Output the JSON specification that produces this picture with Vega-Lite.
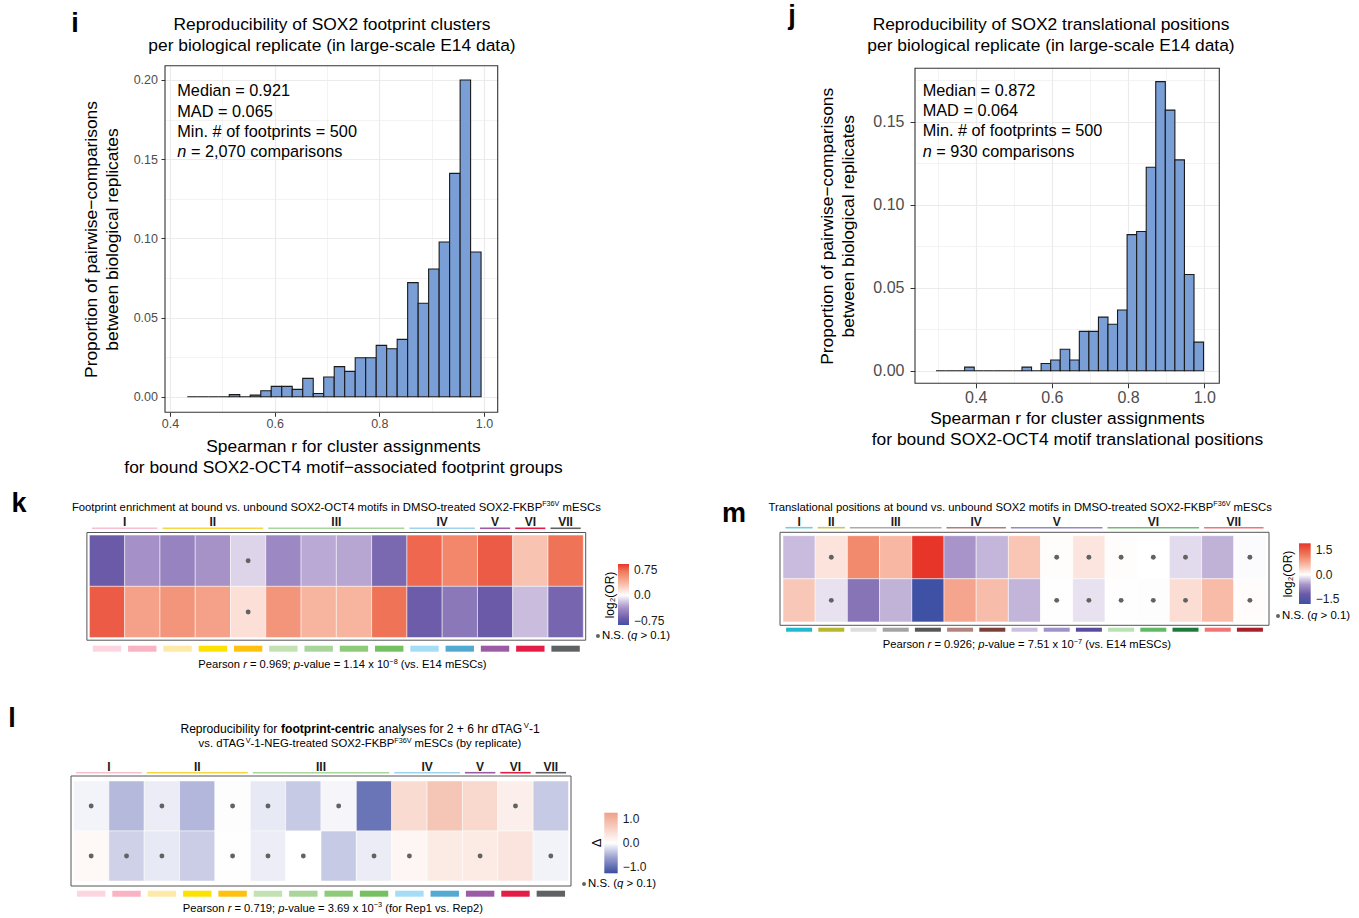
{
"$schema": "https://vega.github.io/schema/vega-lite/v6.json",
"width": 1359, "height": 918, "padding": 0, "autosize": {"type": "none"}, "background": "white",
"config": {"font": "Liberation Sans", "view": {"stroke": null}, "axis": {"labelFont": "Liberation Sans", "titleFont": "Liberation Sans"}, "legend": {"labelFont": "Liberation Sans"}, "text": {"font": "Liberation Sans", "color": "#000000"}},
"datasets": {
"one": [{"k": 1}],
"hist_i": [
{"x0":0.433,"x1":0.4531,"p":0},{"x0":0.4531,"x1":0.4731,"p":0},{"x0":0.4731,"x1":0.4932,"p":0},{"x0":0.4932,"x1":0.5132,"p":0},
{"x0":0.5132,"x1":0.5333,"p":0.0013},{"x0":0.5333,"x1":0.5533,"p":0},{"x0":0.5533,"x1":0.5734,"p":0.001},{"x0":0.5734,"x1":0.5934,"p":0.0038},
{"x0":0.5934,"x1":0.6135,"p":0.0065},{"x0":0.6135,"x1":0.6335,"p":0.0065},{"x0":0.6335,"x1":0.6536,"p":0.0046},{"x0":0.6536,"x1":0.6737,"p":0.0116},
{"x0":0.6737,"x1":0.6937,"p":0.002},{"x0":0.6937,"x1":0.7138,"p":0.0124},{"x0":0.7138,"x1":0.7338,"p":0.019},{"x0":0.7338,"x1":0.7539,"p":0.016},
{"x0":0.7539,"x1":0.7739,"p":0.0246},{"x0":0.7739,"x1":0.794,"p":0.0246},{"x0":0.794,"x1":0.814,"p":0.0324},{"x0":0.814,"x1":0.8341,"p":0.0303},
{"x0":0.8341,"x1":0.8541,"p":0.0362},{"x0":0.8541,"x1":0.8742,"p":0.072},{"x0":0.8742,"x1":0.8942,"p":0.059},{"x0":0.8942,"x1":0.9143,"p":0.0806},
{"x0":0.9143,"x1":0.9343,"p":0.0977},{"x0":0.9343,"x1":0.9544,"p":0.141},{"x0":0.9544,"x1":0.9744,"p":0.2},{"x0":0.9744,"x1":0.9944,"p":0.0914}
],
"hist_j": [
{"x0":0.2958,"x1":0.3209,"p":0},{"x0":0.3209,"x1":0.346,"p":0},{"x0":0.346,"x1":0.371,"p":0},{"x0":0.371,"x1":0.3961,"p":0.00215},
{"x0":0.3961,"x1":0.4212,"p":0},{"x0":0.4212,"x1":0.4463,"p":0},{"x0":0.4463,"x1":0.4714,"p":0},{"x0":0.4714,"x1":0.4964,"p":0},
{"x0":0.4964,"x1":0.5215,"p":0},{"x0":0.5215,"x1":0.5466,"p":0.00215},{"x0":0.5466,"x1":0.5717,"p":0},{"x0":0.5717,"x1":0.5968,"p":0.0043},
{"x0":0.5968,"x1":0.6218,"p":0.00645},{"x0":0.6218,"x1":0.6469,"p":0.0129},{"x0":0.6469,"x1":0.672,"p":0.00645},{"x0":0.672,"x1":0.6971,"p":0.0237},
{"x0":0.6971,"x1":0.7222,"p":0.0237},{"x0":0.7222,"x1":0.7472,"p":0.0323},{"x0":0.7472,"x1":0.7723,"p":0.028},{"x0":0.7723,"x1":0.7974,"p":0.0366},
{"x0":0.7974,"x1":0.8225,"p":0.082},{"x0":0.8225,"x1":0.8476,"p":0.0839},{"x0":0.8476,"x1":0.8726,"p":0.1226},{"x0":0.8726,"x1":0.8977,"p":0.1742},
{"x0":0.8977,"x1":0.9228,"p":0.157},{"x0":0.9228,"x1":0.9479,"p":0.127},{"x0":0.9479,"x1":0.973,"p":0.058},{"x0":0.973,"x1":0.998,"p":0.0172}
],
"k": [
{"col":1,"row":"Bound","v":-0.7,"ns":false},{"col":2,"row":"Bound","v":-0.37,"ns":false},{"col":3,"row":"Bound","v":-0.45,"ns":false},{"col":4,"row":"Bound","v":-0.36,"ns":false},
{"col":5,"row":"Bound","v":-0.14,"ns":true},{"col":6,"row":"Bound","v":-0.42,"ns":false},{"col":7,"row":"Bound","v":-0.28,"ns":false},{"col":8,"row":"Bound","v":-0.29,"ns":false},
{"col":9,"row":"Bound","v":-0.61,"ns":false},{"col":10,"row":"Bound","v":0.76,"ns":false},{"col":11,"row":"Bound","v":0.63,"ns":false},{"col":12,"row":"Bound","v":0.8,"ns":false},
{"col":13,"row":"Bound","v":0.3,"ns":false},{"col":14,"row":"Bound","v":0.72,"ns":false},
{"col":1,"row":"Unbound","v":0.8,"ns":false},{"col":2,"row":"Unbound","v":0.49,"ns":false},{"col":3,"row":"Unbound","v":0.55,"ns":false},{"col":4,"row":"Unbound","v":0.49,"ns":false},
{"col":5,"row":"Unbound","v":0.155,"ns":true},{"col":6,"row":"Unbound","v":0.55,"ns":false},{"col":7,"row":"Unbound","v":0.38,"ns":false},{"col":8,"row":"Unbound","v":0.38,"ns":false},
{"col":9,"row":"Unbound","v":0.72,"ns":false},{"col":10,"row":"Unbound","v":-0.69,"ns":false},{"col":11,"row":"Unbound","v":-0.52,"ns":false},{"col":12,"row":"Unbound","v":-0.7,"ns":false},
{"col":13,"row":"Unbound","v":-0.22,"ns":false},{"col":14,"row":"Unbound","v":-0.63,"ns":false}
],
"m": [
{"col":1,"row":"Bound","v":-0.38,"ns":false},{"col":2,"row":"Bound","v":0.24,"ns":true},{"col":3,"row":"Bound","v":1.05,"ns":false},{"col":4,"row":"Bound","v":0.62,"ns":false},
{"col":5,"row":"Bound","v":1.91,"ns":false},{"col":6,"row":"Bound","v":-0.6,"ns":false},{"col":7,"row":"Bound","v":-0.41,"ns":false},{"col":8,"row":"Bound","v":0.5,"ns":false},
{"col":9,"row":"Bound","v":0.02,"ns":true},{"col":10,"row":"Bound","v":0.22,"ns":true},{"col":11,"row":"Bound","v":0.02,"ns":true},{"col":12,"row":"Bound","v":0.0,"ns":true},
{"col":13,"row":"Bound","v":-0.2,"ns":true},{"col":14,"row":"Bound","v":-0.44,"ns":false},{"col":15,"row":"Bound","v":-0.03,"ns":true},
{"col":1,"row":"Unbound","v":0.48,"ns":false},{"col":2,"row":"Unbound","v":-0.17,"ns":true},{"col":3,"row":"Unbound","v":-0.93,"ns":false},{"col":4,"row":"Unbound","v":-0.43,"ns":false},
{"col":5,"row":"Unbound","v":-1.79,"ns":false},{"col":6,"row":"Unbound","v":0.8,"ns":false},{"col":7,"row":"Unbound","v":0.57,"ns":false},{"col":8,"row":"Unbound","v":-0.42,"ns":false},
{"col":9,"row":"Unbound","v":0.01,"ns":true},{"col":10,"row":"Unbound","v":-0.17,"ns":true},{"col":11,"row":"Unbound","v":0.01,"ns":true},{"col":12,"row":"Unbound","v":-0.01,"ns":true},
{"col":13,"row":"Unbound","v":0.29,"ns":true},{"col":14,"row":"Unbound","v":0.58,"ns":false},{"col":15,"row":"Unbound","v":0.03,"ns":true}
],
"l": [
{"col":1,"row":"Rep1","v":-0.07,"ns":true},{"col":2,"row":"Rep1","v":-0.44,"ns":false},{"col":3,"row":"Rep1","v":-0.12,"ns":true},{"col":4,"row":"Rep1","v":-0.45,"ns":false},
{"col":5,"row":"Rep1","v":-0.01,"ns":true},{"col":6,"row":"Rep1","v":-0.14,"ns":true},{"col":7,"row":"Rep1","v":-0.33,"ns":false},{"col":8,"row":"Rep1","v":-0.06,"ns":true},
{"col":9,"row":"Rep1","v":-0.93,"ns":false},{"col":10,"row":"Rep1","v":0.48,"ns":false},{"col":11,"row":"Rep1","v":0.78,"ns":false},{"col":12,"row":"Rep1","v":0.51,"ns":false},
{"col":13,"row":"Rep1","v":0.21,"ns":true},{"col":14,"row":"Rep1","v":-0.33,"ns":false},
{"col":1,"row":"Rep2","v":0.09,"ns":true},{"col":2,"row":"Rep2","v":-0.29,"ns":true},{"col":3,"row":"Rep2","v":-0.14,"ns":true},{"col":4,"row":"Rep2","v":-0.31,"ns":false},
{"col":5,"row":"Rep2","v":0.01,"ns":true},{"col":6,"row":"Rep2","v":-0.11,"ns":true},{"col":7,"row":"Rep2","v":0.0,"ns":true},{"col":8,"row":"Rep2","v":-0.33,"ns":false},
{"col":9,"row":"Rep2","v":-0.12,"ns":true},{"col":10,"row":"Rep2","v":0.12,"ns":true},{"col":11,"row":"Rep2","v":0.27,"ns":false},{"col":12,"row":"Rep2","v":0.27,"ns":true},
{"col":13,"row":"Rep2","v":0.36,"ns":false},{"col":14,"row":"Rep2","v":-0.08,"ns":true}
],
"cols14": [
{"col":1,"group":"I"},{"col":2,"group":"I"},{"col":3,"group":"II"},{"col":4,"group":"II"},{"col":5,"group":"II"},
{"col":6,"group":"III"},{"col":7,"group":"III"},{"col":8,"group":"III"},{"col":9,"group":"III"},
{"col":10,"group":"IV"},{"col":11,"group":"IV"},{"col":12,"group":"V"},{"col":13,"group":"VI"},{"col":14,"group":"VII"}
],
"cols15": [
{"col":1,"group":"I"},{"col":2,"group":"II"},{"col":3,"group":"III"},{"col":4,"group":"III"},{"col":5,"group":"III"},
{"col":6,"group":"IV"},{"col":7,"group":"IV"},{"col":8,"group":"V"},{"col":9,"group":"V"},{"col":10,"group":"V"},
{"col":11,"group":"VI"},{"col":12,"group":"VI"},{"col":13,"group":"VI"},{"col":14,"group":"VII"},{"col":15,"group":"VII"}
]
},
"resolve": {"scale": {"x": "independent", "y": "independent", "color": "independent", "fill": "independent", "stroke": "independent"}, "axis": {"x": "independent", "y": "independent"}, "legend": {"color": "independent"}},
"layer": [
{
"data": {"name": "hist_i"},
"resolve": {"axis": {"x": "independent", "y": "independent"}},
"layer": [
{"mark": {"type": "rect", "fill": "#7a9fd6", "stroke": "#1a1a1a", "strokeWidth": 1.1},
 "encoding": {
  "x": {"field": "x0", "type": "quantitative", "scale": {"domain": [0.3904, 1.0262], "range": [165, 497.7], "nice": false, "zero": false},
   "axis": {"orient": "bottom", "offset": -505.7, "values": [0.4, 0.6, 0.8, 1.0], "format": ".1f", "grid": false, "domain": false, "tickSize": 4, "tickColor": "#333333", "tickWidth": 1, "labelFontSize": 12.5, "labelColor": "#4d4d4d", "labelPadding": 1.5, "labelFlush": false, "title": ["Spearman r for cluster assignments", "for bound SOX2-OCT4 motif\u2212associated footprint groups"], "titleFontSize": 17.4, "titleFontWeight": "normal", "titleColor": "#000000", "titleX": 343, "titleY": 39.6, "titleAlign": "center", "titleBaseline": "alphabetic", "titleLineHeight": 20.5, "zindex": 0}},
  "x2": {"field": "x1"},
  "y": {"field": "p", "type": "quantitative", "scale": {"domain": [-0.00985, 0.209], "range": [412.3, 65.7], "nice": false, "zero": false},
   "axis": {"orient": "left", "offset": -165, "values": [0, 0.05, 0.1, 0.15, 0.2], "format": ".2f", "grid": false, "domain": false, "tickSize": 4, "tickColor": "#333333", "tickWidth": 1, "labelFontSize": 12.5, "labelColor": "#4d4d4d", "labelPadding": 3.5, "labelFlush": false, "title": ["Proportion of pairwise\u2212comparisons", "between biological replicates"], "titleFontSize": 17.4, "titleFontWeight": "normal", "titleColor": "#000000", "titleAngle": 270, "titleX": -68.8, "titleY": 239, "titleAlign": "center", "titleBaseline": "alphabetic", "titleLineHeight": 21.5, "zindex": 0}},
  "y2": {"datum": 0}
 }},
{"data": {"name": "one"},
 "mark": {"type": "rect", "filled": false, "stroke": "#333333", "strokeWidth": 1.1},
 "encoding": {
  "x": {"datum": 0.3904, "type": "quantitative", "axis": {"orient": "top", "offset": -65.7, "values": [0.4, 0.5, 0.6, 0.7, 0.8, 0.9, 1.0], "labels": false, "domain": false, "grid": false, "tickSize": -346.6, "tickColor": "#ebebeb", "tickWidth": {"condition": {"test": "abs((datum.value*10) % 2 - 1) < 0.01", "value": 0.6}, "value": 1.2}, "title": null, "zindex": 0}},
  "x2": {"datum": 1.0262},
  "y": {"datum": -0.00985, "type": "quantitative", "axis": {"orient": "right", "offset": -861.3, "values": [0, 0.025, 0.05, 0.075, 0.1, 0.125, 0.15, 0.175, 0.2], "labels": false, "domain": false, "grid": false, "tickSize": -332.7, "tickColor": "#ebebeb", "tickWidth": {"condition": {"test": "abs((datum.value*40) % 2 - 1) < 0.01", "value": 0.6}, "value": 1.2}, "title": null, "zindex": 0}},
  "y2": {"datum": 0.209}
 }},
{"data": {"name": "one"}, "mark": {"type": "text", "text": ["Reproducibility of SOX2 footprint clusters", "per biological replicate (in large-scale E14 data)"], "align": "center", "baseline": "alphabetic", "fontSize": 17.4, "lineHeight": 21, "color": "#000000"},
 "encoding": {"x": {"datum": 0.7095, "type": "quantitative", "axis": null}, "y": {"datum": 0.2314, "type": "quantitative", "axis": null}}},
{"data": {"name": "one"}, "mark": {"type": "text", "text": "i", "align": "center", "baseline": "alphabetic", "fontSize": 27, "fontWeight": "bold", "color": "#000000"},
 "encoding": {"x": {"datum": 0.2184, "type": "quantitative", "axis": null}, "y": {"datum": 0.2305, "type": "quantitative", "axis": null}}},
{"data": {"name": "one"}, "mark": {"type": "text", "text": ["Median = 0.921", "MAD = 0.065", "Min. # of footprints = 500"], "align": "left", "baseline": "alphabetic", "fontSize": 16.3, "lineHeight": 20.3, "color": "#000000"},
 "encoding": {"x": {"datum": 0.4139, "type": "quantitative", "axis": null}, "y": {"datum": 0.1896, "type": "quantitative", "axis": null}}},
{"data": {"name": "one"}, "mark": {"type": "text", "text": "n", "align": "left", "baseline": "alphabetic", "fontSize": 16.3, "fontStyle": "italic", "color": "#000000"},
 "encoding": {"x": {"datum": 0.4139, "type": "quantitative", "axis": null}, "y": {"datum": 0.1511, "type": "quantitative", "axis": null}}},
{"data": {"name": "one"}, "mark": {"type": "text", "text": "= 2,070 comparisons", "align": "left", "baseline": "alphabetic", "fontSize": 16.3, "dx": 13.6, "color": "#000000"},
 "encoding": {"x": {"datum": 0.4139, "type": "quantitative", "axis": null}, "y": {"datum": 0.1511, "type": "quantitative", "axis": null}}}
]
},
{
"data": {"name": "hist_j"},
"resolve": {"axis": {"x": "independent", "y": "independent"}},
"layer": [
{"mark": {"type": "rect", "fill": "#7a9fd6", "stroke": "#1a1a1a", "strokeWidth": 1.1},
 "encoding": {
  "x": {"field": "x0", "type": "quantitative", "scale": {"domain": [0.2407, 1.0394], "range": [915, 1219.3], "nice": false, "zero": false},
   "axis": {"orient": "bottom", "offset": -534.7, "values": [0.4, 0.6, 0.8, 1.0], "format": ".1f", "grid": false, "domain": false, "tickSize": 4.5, "tickColor": "#333333", "tickWidth": 1, "labelFontSize": 16, "labelColor": "#4d4d4d", "labelPadding": 2, "labelFlush": false, "title": ["Spearman r for cluster assignments", "for bound SOX2-OCT4 motif translational positions"], "titleFontSize": 17.4, "titleFontWeight": "normal", "titleColor": "#000000", "titleX": 1067, "titleY": 40.2, "titleAlign": "center", "titleBaseline": "alphabetic", "titleLineHeight": 20.5, "zindex": 0}},
  "x2": {"field": "x1"},
  "y": {"field": "p", "type": "quantitative", "scale": {"domain": [-0.0076, 0.1822], "range": [383.3, 68.3], "nice": false, "zero": false},
   "axis": {"orient": "left", "offset": -915, "values": [0, 0.05, 0.1, 0.15], "format": ".2f", "grid": false, "domain": false, "tickSize": 5, "tickColor": "#333333", "tickWidth": 1, "labelFontSize": 16, "labelColor": "#4d4d4d", "labelPadding": 6, "labelFlush": false, "title": ["Proportion of pairwise\u2212comparisons", "between biological replicates"], "titleFontSize": 17.4, "titleFontWeight": "normal", "titleColor": "#000000", "titleAngle": 270, "titleX": -83, "titleY": 225.8, "titleAlign": "center", "titleBaseline": "alphabetic", "titleLineHeight": 21.5, "zindex": 0}},
  "y2": {"datum": 0}
 }},
{"data": {"name": "one"},
 "mark": {"type": "rect", "filled": false, "stroke": "#333333", "strokeWidth": 1.1},
 "encoding": {
  "x": {"datum": 0.2407, "type": "quantitative", "axis": {"orient": "top", "offset": -68.3, "values": [0.3, 0.4, 0.5, 0.6, 0.7, 0.8, 0.9, 1.0], "labels": false, "domain": false, "grid": false, "tickSize": -315, "tickColor": "#ebebeb", "tickWidth": {"condition": {"test": "abs((datum.value*10) % 2 - 1) < 0.01", "value": 0.6}, "value": 1.2}, "title": null, "zindex": 0}},
  "x2": {"datum": 1.0394},
  "y": {"datum": -0.0076, "type": "quantitative", "axis": {"orient": "right", "offset": -139.7, "values": [0, 0.025, 0.05, 0.075, 0.1, 0.125, 0.15, 0.175], "labels": false, "domain": false, "grid": false, "tickSize": -304.3, "tickColor": "#ebebeb", "tickWidth": {"condition": {"test": "abs((datum.value*40) % 2 - 1) < 0.01", "value": 0.6}, "value": 1.2}, "title": null, "zindex": 0}},
  "y2": {"datum": 0.1822}
 }},
{"data": {"name": "one"}, "mark": {"type": "text", "text": ["Reproducibility of SOX2 translational positions", "per biological replicate (in large-scale E14 data)"], "align": "center", "baseline": "alphabetic", "fontSize": 17.4, "lineHeight": 21, "color": "#000000"},
 "encoding": {"x": {"datum": 0.5976, "type": "quantitative", "axis": null}, "y": {"datum": 0.2052, "type": "quantitative", "axis": null}}},
{"data": {"name": "one"}, "mark": {"type": "text", "text": "j", "align": "center", "baseline": "alphabetic", "fontSize": 27, "fontWeight": "bold", "color": "#000000"},
 "encoding": {"x": {"datum": -0.0822, "type": "quantitative", "axis": null}, "y": {"datum": 0.2086, "type": "quantitative", "axis": null}}},
{"data": {"name": "one"}, "mark": {"type": "text", "text": ["Median = 0.872", "MAD = 0.064", "Min. # of footprints = 500"], "align": "left", "baseline": "alphabetic", "fontSize": 16.3, "lineHeight": 20.3, "color": "#000000"},
 "encoding": {"x": {"datum": 0.2609, "type": "quantitative", "axis": null}, "y": {"datum": 0.1657, "type": "quantitative", "axis": null}}},
{"data": {"name": "one"}, "mark": {"type": "text", "text": "n", "align": "left", "baseline": "alphabetic", "fontSize": 16.3, "fontStyle": "italic", "color": "#000000"},
 "encoding": {"x": {"datum": 0.2609, "type": "quantitative", "axis": null}, "y": {"datum": 0.1289, "type": "quantitative", "axis": null}}},
{"data": {"name": "one"}, "mark": {"type": "text", "text": "= 930 comparisons", "align": "left", "baseline": "alphabetic", "fontSize": 16.3, "dx": 13.6, "color": "#000000"},
 "encoding": {"x": {"datum": 0.2609, "type": "quantitative", "axis": null}, "y": {"datum": 0.1289, "type": "quantitative", "axis": null}}}
]
},
{
"data": {"name": "k"},
"layer": [
{"mark": {"type": "rect", "stroke": "#ffffff", "strokeWidth": 0.5},
 "encoding": {
  "x": {"field": "col", "type": "ordinal", "scale": {"domain": [1,2,3,4,5,6,7,8,9,10,11,12,13,14], "range": [89.4, 583.3], "paddingInner": 0, "paddingOuter": 0},
   "axis": {"orient": "bottom", "offset": -277.8, "labels": false, "domain": false, "grid": false, "tickSize": 3, "tickColor": "#666666", "title": null, "zindex": 0}},
  "y": {"field": "row", "type": "nominal", "scale": {"domain": ["Bound", "Unbound"], "range": [535.1, 637.6], "paddingInner": 0, "paddingOuter": 0},
   "axis": {"orient": "left", "offset": -86.9, "labelAngle": 270, "labelAlign": "center", "labelBaseline": "bottom", "labelPadding": 4, "labelFontSize": 11.5, "labelColor": "#333333", "domain": false, "grid": false, "tickSize": 3, "tickColor": "#666666", "title": null, "zindex": 0}},
  "color": {"field": "v", "type": "quantitative", "scale": {"domain": [-0.875, -0.7, -0.35, 0, 0.35, 0.7, 0.92], "range": ["#3f51a5", "#6a5aa8", "#a994c9", "#ffffff", "#f8b9a5", "#f07a5c", "#e8352a"], "interpolate": "rgb"},
   "legend": {"orient": "none", "legendX": 618, "legendY": 564, "direction": "vertical", "title": null, "gradientLength": 61, "gradientThickness": 11, "values": [-0.75, 0, 0.75], "labelExpr": "datum.value == 0 ? '0.0' : format(datum.value, '.2f')", "labelFontSize": 12, "labelColor": "#1a1a1a", "labelOffset": 5, "padding": 0, "gradientStrokeWidth": 0}}
 }},
{"transform": [{"filter": "datum.ns"}],
 "mark": {"type": "point", "filled": true, "color": "#626262", "size": 24, "opacity": 1},
 "encoding": {"x": {"field": "col", "type": "ordinal", "axis": null}, "y": {"field": "row", "type": "nominal", "axis": null}}}
]
},
{
"data": {"name": "cols14"},
"layer": [
{"mark": {"type": "rect", "xOffset": -14.2, "x2Offset": 14.2},
 "encoding": {
  "x": {"field": "col", "type": "quantitative", "scale": {"domain": [0.43, 14.57], "range": [86.9, 585.7], "nice": false, "zero": false}, "axis": null},
  "x2": {"field": "col"},
  "y": {"datum": 0.226, "type": "quantitative", "scale": {"domain": [0.45, 2.55], "range": [640.2, 532.5], "nice": false, "zero": false}, "axis": null},
  "y2": {"datum": 0.343},
  "fill": {"field": "col", "type": "ordinal", "scale": {"domain": [1,2,3,4,5,6,7,8,9,10,11,12,13,14], "range": ["#fdd5e1", "#f9b3c2", "#fdeaa8", "#fde200", "#fec10e", "#c3e2b3", "#a9d59a", "#8ecb78", "#75c162", "#a4ddf5", "#52a9d2", "#9b5ba5", "#e31d45", "#5f6262"]}, "legend": null}
 }},
{"mark": {"type": "rule", "strokeWidth": 1.6, "xOffset": -15.1, "x2Offset": 15.1},
 "encoding": {
  "x": {"aggregate": "min", "field": "col", "type": "quantitative", "axis": null},
  "x2": {"aggregate": "max", "field": "col"},
  "y": {"datum": 2.632, "type": "quantitative", "axis": null},
  "stroke": {"field": "group", "type": "nominal", "scale": {"domain": ["I", "II", "III", "IV", "V", "VI", "VII"], "range": ["#f7bfd0", "#f8d642", "#a9d69d", "#9dd3ef", "#9b5ba5", "#e31d45", "#5f6262"]}, "legend": null}
 }},
{"mark": {"type": "text", "fontWeight": "bold", "fontSize": 12, "baseline": "middle", "align": "center", "color": "#1a1a1a"},
 "encoding": {
  "x": {"aggregate": "mean", "field": "col", "type": "quantitative", "axis": null},
  "y": {"datum": 2.749, "type": "quantitative", "axis": null},
  "text": {"field": "group", "type": "nominal"}
 }},
{"data": {"name": "one"}, "mark": {"type": "rect", "filled": false, "stroke": "#555555", "strokeWidth": 1},
 "encoding": {"x": {"datum": 0.43, "type": "quantitative", "axis": null}, "x2": {"datum": 14.57}, "y": {"datum": 0.45, "type": "quantitative", "axis": null}, "y2": {"datum": 2.55}}},
{"data": {"name": "one"}, "mark": {"type": "text", "text": "Footprint enrichment at bound vs. unbound SOX2-OCT4 motifs in DMSO-treated SOX2-FKBP", "align": "right", "baseline": "alphabetic", "fontSize": 11.3, "dx": 205.9},
 "encoding": {"x": {"datum": 7.5, "type": "quantitative", "axis": null}, "y": {"datum": 2.974, "type": "quantitative", "axis": null}}},
{"data": {"name": "one"}, "mark": {"type": "text", "text": "F36V", "align": "left", "baseline": "alphabetic", "fontSize": 7.2, "dx": 205.9, "dy": -4.5},
 "encoding": {"x": {"datum": 7.5, "type": "quantitative", "axis": null}, "y": {"datum": 2.974, "type": "quantitative", "axis": null}}},
{"data": {"name": "one"}, "mark": {"type": "text", "text": "mESCs", "align": "left", "baseline": "alphabetic", "fontSize": 11.3, "dx": 226.2},
 "encoding": {"x": {"datum": 7.5, "type": "quantitative", "axis": null}, "y": {"datum": 2.974, "type": "quantitative", "axis": null}}},
{"data": {"name": "one"}, "mark": {"type": "text", "text": "Pearson", "align": "left", "baseline": "alphabetic", "fontSize": 11.2, "dx": 0},
 "encoding": {"x": {"datum": 3.59, "type": "quantitative", "axis": null}, "y": {"datum": -0.098, "type": "quantitative", "axis": null}}},
{"data": {"name": "one"}, "mark": {"type": "text", "text": "r", "align": "left", "baseline": "alphabetic", "fontSize": 11.2, "fontStyle": "italic", "dx": 44.8},
 "encoding": {"x": {"datum": 3.59, "type": "quantitative", "axis": null}, "y": {"datum": -0.098, "type": "quantitative", "axis": null}}},
{"data": {"name": "one"}, "mark": {"type": "text", "text": "= 0.969;", "align": "left", "baseline": "alphabetic", "fontSize": 11.2, "dx": 51.6},
 "encoding": {"x": {"datum": 3.59, "type": "quantitative", "axis": null}, "y": {"datum": -0.098, "type": "quantitative", "axis": null}}},
{"data": {"name": "one"}, "mark": {"type": "text", "text": "p", "align": "left", "baseline": "alphabetic", "fontSize": 11.2, "fontStyle": "italic", "dx": 95.5},
 "encoding": {"x": {"datum": 3.59, "type": "quantitative", "axis": null}, "y": {"datum": -0.098, "type": "quantitative", "axis": null}}},
{"data": {"name": "one"}, "mark": {"type": "text", "text": "-value = 1.14 x 10", "align": "left", "baseline": "alphabetic", "fontSize": 11.2, "dx": 101.7},
 "encoding": {"x": {"datum": 3.59, "type": "quantitative", "axis": null}, "y": {"datum": -0.098, "type": "quantitative", "axis": null}}},
{"data": {"name": "one"}, "mark": {"type": "text", "text": "\u22128", "align": "left", "baseline": "alphabetic", "fontSize": 7.3, "dx": 191.0, "dy": -4.5},
 "encoding": {"x": {"datum": 3.59, "type": "quantitative", "axis": null}, "y": {"datum": -0.098, "type": "quantitative", "axis": null}}},
{"data": {"name": "one"}, "mark": {"type": "text", "text": "(vs. E14 mESCs)", "align": "left", "baseline": "alphabetic", "fontSize": 11.2, "dx": 202.4},
 "encoding": {"x": {"datum": 3.59, "type": "quantitative", "axis": null}, "y": {"datum": -0.098, "type": "quantitative", "axis": null}}},
{"data": {"name": "one"}, "mark": {"type": "text", "text": "k", "align": "center", "baseline": "alphabetic", "fontSize": 27, "fontWeight": "bold"},
 "encoding": {"x": {"datum": -1.495, "type": "quantitative", "axis": null}, "y": {"datum": 2.95, "type": "quantitative", "axis": null}}},
{"data": {"name": "one"}, "mark": {"type": "text", "text": "log\u2082(OR)", "align": "center", "baseline": "middle", "fontSize": 12, "angle": 270},
 "encoding": {"x": {"datum": 15.257, "type": "quantitative", "axis": null}, "y": {"datum": 1.331, "type": "quantitative", "axis": null}}},
{"data": {"name": "one"}, "mark": {"type": "point", "filled": true, "color": "#626262", "size": 16, "opacity": 1},
 "encoding": {"x": {"datum": 14.917, "type": "quantitative", "axis": null}, "y": {"datum": 0.532, "type": "quantitative", "axis": null}}},
{"data": {"name": "one"}, "mark": {"type": "text", "text": "N.S. (", "align": "left", "baseline": "middle", "fontSize": 11.4, "dx": 4},
 "encoding": {"x": {"datum": 14.917, "type": "quantitative", "axis": null}, "y": {"datum": 0.532, "type": "quantitative", "axis": null}}},
{"data": {"name": "one"}, "mark": {"type": "text", "text": "q", "align": "left", "baseline": "middle", "fontSize": 11.4, "fontStyle": "italic", "dx": 33.1},
 "encoding": {"x": {"datum": 14.917, "type": "quantitative", "axis": null}, "y": {"datum": 0.532, "type": "quantitative", "axis": null}}},
{"data": {"name": "one"}, "mark": {"type": "text", "text": "> 0.1)", "align": "left", "baseline": "middle", "fontSize": 11.4, "dx": 42.6},
 "encoding": {"x": {"datum": 14.917, "type": "quantitative", "axis": null}, "y": {"datum": 0.532, "type": "quantitative", "axis": null}}}
]
},
{
"data": {"name": "m"},
"layer": [
{"mark": {"type": "rect", "stroke": "#ffffff", "strokeWidth": 0.5},
 "encoding": {
  "x": {"field": "col", "type": "ordinal", "scale": {"domain": [1,2,3,4,5,6,7,8,9,10,11,12,13,14,15], "range": [783, 1266], "paddingInner": 0, "paddingOuter": 0},
   "axis": {"orient": "bottom", "offset": -292.7, "labels": false, "domain": false, "grid": false, "tickSize": 3, "tickColor": "#666666", "title": null, "zindex": 0}},
  "y": {"field": "row", "type": "nominal", "scale": {"domain": ["Bound", "Unbound"], "range": [535.7, 621.9], "paddingInner": 0, "paddingOuter": 0},
   "axis": {"orient": "left", "offset": -780, "labelAngle": 270, "labelAlign": "center", "labelBaseline": "bottom", "labelPadding": 4, "labelFontSize": 11.5, "labelColor": "#333333", "domain": false, "grid": false, "tickSize": 3, "tickColor": "#666666", "title": null, "zindex": 0}},
  "color": {"field": "v", "type": "quantitative", "scale": {"domain": [-1.79, -1.2, -0.6, 0, 0.6, 1.2, 1.91], "range": ["#3f51a5", "#6a5aa8", "#a994c9", "#ffffff", "#f8b9a5", "#f07a5c", "#e8352a"], "interpolate": "rgb"},
   "legend": {"orient": "none", "legendX": 1299, "legendY": 543.3, "direction": "vertical", "title": null, "gradientLength": 60.7, "gradientThickness": 11.7, "values": [-1.5, 0, 1.5], "format": ".1f", "labelFontSize": 12, "labelColor": "#1a1a1a", "labelOffset": 5, "padding": 0, "gradientStrokeWidth": 0}}
 }},
{"transform": [{"filter": "datum.ns"}],
 "mark": {"type": "point", "filled": true, "color": "#626262", "size": 24, "opacity": 1},
 "encoding": {"x": {"field": "col", "type": "ordinal", "axis": null}, "y": {"field": "row", "type": "nominal", "axis": null}}}
]
},
{
"data": {"name": "cols15"},
"layer": [
{"mark": {"type": "rect", "xOffset": -13, "x2Offset": 13},
 "encoding": {
  "x": {"field": "col", "type": "quantitative", "scale": {"domain": [0.407, 15.593], "range": [780, 1269], "nice": false, "zero": false}, "axis": null},
  "x2": {"field": "col"},
  "y": {"datum": 0.271, "type": "quantitative", "scale": {"domain": [0.42, 2.58], "range": [625.3, 532.3], "nice": false, "zero": false}, "axis": null},
  "y2": {"datum": 0.364},
  "fill": {"field": "col", "type": "ordinal", "scale": {"domain": [1,2,3,4,5,6,7,8,9,10,11,12,13,14,15], "range": ["#22b8ce", "#b8b72f", "#dddddd", "#a3a3a3", "#565656", "#b3837d", "#7b3f3a", "#cdbfe0", "#9f92c9", "#5a4ba1", "#b9e1b1", "#5fb965", "#1e7a3a", "#f07474", "#a81e2b"]}, "legend": null}
 }},
{"mark": {"type": "rule", "strokeWidth": 1.6, "xOffset": -13.6, "x2Offset": 13.6},
 "encoding": {
  "x": {"aggregate": "min", "field": "col", "type": "quantitative", "axis": null},
  "x2": {"aggregate": "max", "field": "col"},
  "y": {"datum": 2.687, "type": "quantitative", "axis": null},
  "stroke": {"field": "group", "type": "nominal", "scale": {"domain": ["I", "II", "III", "IV", "V", "VI", "VII"], "range": ["#6fcfdd", "#c8c85c", "#ababab", "#b17c77", "#9588c4", "#6ebd73", "#f07575"]}, "legend": null}
 }},
{"mark": {"type": "text", "fontWeight": "bold", "fontSize": 12, "baseline": "middle", "align": "center", "color": "#1a1a1a"},
 "encoding": {
  "x": {"aggregate": "mean", "field": "col", "type": "quantitative", "axis": null},
  "y": {"datum": 2.826, "type": "quantitative", "axis": null},
  "text": {"field": "group", "type": "nominal"}
 }},
{"data": {"name": "one"}, "mark": {"type": "rect", "filled": false, "stroke": "#555555", "strokeWidth": 1},
 "encoding": {"x": {"datum": 0.407, "type": "quantitative", "axis": null}, "x2": {"datum": 15.593}, "y": {"datum": 0.42, "type": "quantitative", "axis": null}, "y2": {"datum": 2.58}}},
{"data": {"name": "one"}, "mark": {"type": "text", "text": "Translational positions at bound vs. unbound SOX2 motifs in DMSO-treated SOX2-FKBP", "align": "right", "baseline": "alphabetic", "fontSize": 11.3, "dx": 193.3},
 "encoding": {"x": {"datum": 7.86, "type": "quantitative", "axis": null}, "y": {"datum": 3.08, "type": "quantitative", "axis": null}}},
{"data": {"name": "one"}, "mark": {"type": "text", "text": "F36V", "align": "left", "baseline": "alphabetic", "fontSize": 7.2, "dx": 193.3, "dy": -4.5},
 "encoding": {"x": {"datum": 7.86, "type": "quantitative", "axis": null}, "y": {"datum": 3.08, "type": "quantitative", "axis": null}}},
{"data": {"name": "one"}, "mark": {"type": "text", "text": "mESCs", "align": "left", "baseline": "alphabetic", "fontSize": 11.3, "dx": 213.6},
 "encoding": {"x": {"datum": 7.86, "type": "quantitative", "axis": null}, "y": {"datum": 3.08, "type": "quantitative", "axis": null}}},
{"data": {"name": "one"}, "mark": {"type": "text", "text": "Pearson", "align": "left", "baseline": "alphabetic", "fontSize": 11.2, "dx": 0},
 "encoding": {"x": {"datum": 3.599, "type": "quantitative", "axis": null}, "y": {"datum": -0.114, "type": "quantitative", "axis": null}}},
{"data": {"name": "one"}, "mark": {"type": "text", "text": "r", "align": "left", "baseline": "alphabetic", "fontSize": 11.2, "fontStyle": "italic", "dx": 44.8},
 "encoding": {"x": {"datum": 3.599, "type": "quantitative", "axis": null}, "y": {"datum": -0.114, "type": "quantitative", "axis": null}}},
{"data": {"name": "one"}, "mark": {"type": "text", "text": "= 0.926;", "align": "left", "baseline": "alphabetic", "fontSize": 11.2, "dx": 51.6},
 "encoding": {"x": {"datum": 3.599, "type": "quantitative", "axis": null}, "y": {"datum": -0.114, "type": "quantitative", "axis": null}}},
{"data": {"name": "one"}, "mark": {"type": "text", "text": "p", "align": "left", "baseline": "alphabetic", "fontSize": 11.2, "fontStyle": "italic", "dx": 95.5},
 "encoding": {"x": {"datum": 3.599, "type": "quantitative", "axis": null}, "y": {"datum": -0.114, "type": "quantitative", "axis": null}}},
{"data": {"name": "one"}, "mark": {"type": "text", "text": "-value = 7.51 x 10", "align": "left", "baseline": "alphabetic", "fontSize": 11.2, "dx": 101.7},
 "encoding": {"x": {"datum": 3.599, "type": "quantitative", "axis": null}, "y": {"datum": -0.114, "type": "quantitative", "axis": null}}},
{"data": {"name": "one"}, "mark": {"type": "text", "text": "\u22127", "align": "left", "baseline": "alphabetic", "fontSize": 7.3, "dx": 191.0, "dy": -4.5},
 "encoding": {"x": {"datum": 3.599, "type": "quantitative", "axis": null}, "y": {"datum": -0.114, "type": "quantitative", "axis": null}}},
{"data": {"name": "one"}, "mark": {"type": "text", "text": "(vs. E14 mESCs)", "align": "left", "baseline": "alphabetic", "fontSize": 11.2, "dx": 202.4},
 "encoding": {"x": {"datum": 3.599, "type": "quantitative", "axis": null}, "y": {"datum": -0.114, "type": "quantitative", "axis": null}}},
{"data": {"name": "one"}, "mark": {"type": "text", "text": "m", "align": "center", "baseline": "alphabetic", "fontSize": 27, "fontWeight": "bold"},
 "encoding": {"x": {"datum": -1.022, "type": "quantitative", "axis": null}, "y": {"datum": 2.819, "type": "quantitative", "axis": null}}},
{"data": {"name": "one"}, "mark": {"type": "text", "text": "log\u2082(OR)", "align": "center", "baseline": "middle", "fontSize": 12, "angle": 270},
 "encoding": {"x": {"datum": 16.183, "type": "quantitative", "axis": null}, "y": {"datum": 1.611, "type": "quantitative", "axis": null}}},
{"data": {"name": "one"}, "mark": {"type": "point", "filled": true, "color": "#626262", "size": 16, "opacity": 1},
 "encoding": {"x": {"datum": 15.873, "type": "quantitative", "axis": null}, "y": {"datum": 0.636, "type": "quantitative", "axis": null}}},
{"data": {"name": "one"}, "mark": {"type": "text", "text": "N.S. (", "align": "left", "baseline": "middle", "fontSize": 11.4, "dx": 4},
 "encoding": {"x": {"datum": 15.873, "type": "quantitative", "axis": null}, "y": {"datum": 0.636, "type": "quantitative", "axis": null}}},
{"data": {"name": "one"}, "mark": {"type": "text", "text": "q", "align": "left", "baseline": "middle", "fontSize": 11.4, "fontStyle": "italic", "dx": 33.1},
 "encoding": {"x": {"datum": 15.873, "type": "quantitative", "axis": null}, "y": {"datum": 0.636, "type": "quantitative", "axis": null}}},
{"data": {"name": "one"}, "mark": {"type": "text", "text": "> 0.1)", "align": "left", "baseline": "middle", "fontSize": 11.4, "dx": 42.6},
 "encoding": {"x": {"datum": 15.873, "type": "quantitative", "axis": null}, "y": {"datum": 0.636, "type": "quantitative", "axis": null}}}
]
},
{
"data": {"name": "l"},
"layer": [
{"mark": {"type": "rect", "stroke": "#ffffff", "strokeWidth": 0.5},
 "encoding": {
  "x": {"field": "col", "type": "ordinal", "scale": {"domain": [1,2,3,4,5,6,7,8,9,10,11,12,13,14], "range": [73.5, 568.5], "paddingInner": 0, "paddingOuter": 0},
   "axis": {"orient": "bottom", "offset": -32, "labels": false, "domain": false, "grid": false, "tickSize": 3, "tickColor": "#666666", "title": null, "zindex": 0}},
  "y": {"field": "row", "type": "nominal", "scale": {"domain": ["Rep1", "Rep2"], "range": [781, 881], "paddingInner": 0, "paddingOuter": 0},
   "axis": {"orient": "left", "offset": -71, "labelAngle": 270, "labelAlign": "center", "labelBaseline": "bottom", "labelPadding": 2, "labelFontSize": 11.5, "labelColor": "#333333", "domain": false, "grid": false, "tickSize": 3, "tickColor": "#666666", "title": null, "zindex": 0}},
  "color": {"field": "v", "type": "quantitative", "scale": {"domain": [-1.25, -0.6, 0, 1.26], "range": ["#3b4da0", "#9a9fcf", "#ffffff", "#efa187"], "interpolate": "rgb"},
   "legend": {"orient": "none", "legendX": 604.3, "legendY": 812.7, "direction": "vertical", "title": null, "gradientLength": 60.6, "gradientThickness": 13.4, "values": [-1, 0, 1], "format": ".1f", "labelFontSize": 12, "labelColor": "#1a1a1a", "labelOffset": 5, "padding": 0, "gradientStrokeWidth": 0}}
 }},
{"transform": [{"filter": "datum.ns"}],
 "mark": {"type": "point", "filled": true, "color": "#626262", "size": 24, "opacity": 1},
 "encoding": {"x": {"field": "col", "type": "ordinal", "axis": null}, "y": {"field": "row", "type": "nominal", "axis": null}}}
]
},
{
"data": {"name": "cols14"},
"layer": [
{"mark": {"type": "rect", "xOffset": -14.2, "x2Offset": 14.2},
 "encoding": {
  "x": {"field": "col", "type": "quantitative", "scale": {"domain": [0.43, 14.57], "range": [71, 571], "nice": false, "zero": false}, "axis": null},
  "x2": {"field": "col"},
  "y": {"datum": 0.186, "type": "quantitative", "scale": {"domain": [0.4, 2.6], "range": [886, 776], "nice": false, "zero": false}, "axis": null},
  "y2": {"datum": 0.306},
  "fill": {"field": "col", "type": "ordinal", "scale": {"domain": [1,2,3,4,5,6,7,8,9,10,11,12,13,14], "range": ["#fdd5e1", "#f9b3c2", "#fdeaa8", "#fde200", "#fec10e", "#c3e2b3", "#a9d59a", "#8ecb78", "#75c162", "#a4ddf5", "#52a9d2", "#9b5ba5", "#e31d45", "#5f6262"]}, "legend": null}
 }},
{"mark": {"type": "rule", "strokeWidth": 1.6, "xOffset": -15.2, "x2Offset": 15.2},
 "encoding": {
  "x": {"aggregate": "min", "field": "col", "type": "quantitative", "axis": null},
  "x2": {"aggregate": "max", "field": "col"},
  "y": {"datum": 2.666, "type": "quantitative", "axis": null},
  "stroke": {"field": "group", "type": "nominal", "scale": {"domain": ["I", "II", "III", "IV", "V", "VI", "VII"], "range": ["#f7bfd0", "#f8d642", "#a9d69d", "#9dd3ef", "#9b5ba5", "#e31d45", "#5f6262"]}, "legend": null}
 }},
{"mark": {"type": "text", "fontWeight": "bold", "fontSize": 12, "baseline": "middle", "align": "center", "color": "#1a1a1a"},
 "encoding": {
  "x": {"aggregate": "mean", "field": "col", "type": "quantitative", "axis": null},
  "y": {"datum": 2.786, "type": "quantitative", "axis": null},
  "text": {"field": "group", "type": "nominal"}
 }},
{"data": {"name": "one"}, "mark": {"type": "rect", "filled": false, "stroke": "#555555", "strokeWidth": 1},
 "encoding": {"x": {"datum": 0.43, "type": "quantitative", "axis": null}, "x2": {"datum": 14.57}, "y": {"datum": 0.4, "type": "quantitative", "axis": null}, "y2": {"datum": 2.6}}},
{"data": {"name": "one"}, "mark": {"type": "text", "text": "Reproducibility for", "align": "left", "baseline": "alphabetic", "fontSize": 12.1, "dx": -179.6},
 "encoding": {"x": {"datum": 8.603, "type": "quantitative", "axis": null}, "y": {"datum": 3.459, "type": "quantitative", "axis": null}}},
{"data": {"name": "one"}, "mark": {"type": "text", "text": "footprint-centric", "align": "left", "baseline": "alphabetic", "fontSize": 12.1, "fontWeight": "bold", "dx": -79.0},
 "encoding": {"x": {"datum": 8.603, "type": "quantitative", "axis": null}, "y": {"datum": 3.459, "type": "quantitative", "axis": null}}},
{"data": {"name": "one"}, "mark": {"type": "text", "text": "analyses for 2 + 6 hr dTAG", "align": "left", "baseline": "alphabetic", "fontSize": 12.1, "dx": 18.2},
 "encoding": {"x": {"datum": 8.603, "type": "quantitative", "axis": null}, "y": {"datum": 3.459, "type": "quantitative", "axis": null}}},
{"data": {"name": "one"}, "mark": {"type": "text", "text": "V", "align": "left", "baseline": "alphabetic", "fontSize": 7.7, "dx": 163.7, "dy": -4.8},
 "encoding": {"x": {"datum": 8.603, "type": "quantitative", "axis": null}, "y": {"datum": 3.459, "type": "quantitative", "axis": null}}},
{"data": {"name": "one"}, "mark": {"type": "text", "text": "-1", "align": "left", "baseline": "alphabetic", "fontSize": 12.1, "dx": 168.9},
 "encoding": {"x": {"datum": 8.603, "type": "quantitative", "axis": null}, "y": {"datum": 3.459, "type": "quantitative", "axis": null}}},
{"data": {"name": "one"}, "mark": {"type": "text", "text": "vs. dTAG", "align": "left", "baseline": "alphabetic", "fontSize": 11.3, "dx": -161.4},
 "encoding": {"x": {"datum": 8.603, "type": "quantitative", "axis": null}, "y": {"datum": 3.173, "type": "quantitative", "axis": null}}},
{"data": {"name": "one"}, "mark": {"type": "text", "text": "V", "align": "left", "baseline": "alphabetic", "fontSize": 7.2, "dx": -114.3, "dy": -4.5},
 "encoding": {"x": {"datum": 8.603, "type": "quantitative", "axis": null}, "y": {"datum": 3.173, "type": "quantitative", "axis": null}}},
{"data": {"name": "one"}, "mark": {"type": "text", "text": "-1-NEG-treated SOX2-FKBP", "align": "left", "baseline": "alphabetic", "fontSize": 11.3, "dx": -109.5},
 "encoding": {"x": {"datum": 8.603, "type": "quantitative", "axis": null}, "y": {"datum": 3.173, "type": "quantitative", "axis": null}}},
{"data": {"name": "one"}, "mark": {"type": "text", "text": "F36V", "align": "left", "baseline": "alphabetic", "fontSize": 7.2, "dx": 34.3, "dy": -4.5},
 "encoding": {"x": {"datum": 8.603, "type": "quantitative", "axis": null}, "y": {"datum": 3.173, "type": "quantitative", "axis": null}}},
{"data": {"name": "one"}, "mark": {"type": "text", "text": "mESCs (by replicate)", "align": "left", "baseline": "alphabetic", "fontSize": 11.3, "dx": 54.6},
 "encoding": {"x": {"datum": 8.603, "type": "quantitative", "axis": null}, "y": {"datum": 3.173, "type": "quantitative", "axis": null}}},
{"data": {"name": "one"}, "mark": {"type": "text", "text": "Pearson", "align": "left", "baseline": "alphabetic", "fontSize": 11.2, "dx": 0},
 "encoding": {"x": {"datum": 3.593, "type": "quantitative", "axis": null}, "y": {"datum": -0.114, "type": "quantitative", "axis": null}}},
{"data": {"name": "one"}, "mark": {"type": "text", "text": "r", "align": "left", "baseline": "alphabetic", "fontSize": 11.2, "fontStyle": "italic", "dx": 44.8},
 "encoding": {"x": {"datum": 3.593, "type": "quantitative", "axis": null}, "y": {"datum": -0.114, "type": "quantitative", "axis": null}}},
{"data": {"name": "one"}, "mark": {"type": "text", "text": "= 0.719;", "align": "left", "baseline": "alphabetic", "fontSize": 11.2, "dx": 51.6},
 "encoding": {"x": {"datum": 3.593, "type": "quantitative", "axis": null}, "y": {"datum": -0.114, "type": "quantitative", "axis": null}}},
{"data": {"name": "one"}, "mark": {"type": "text", "text": "p", "align": "left", "baseline": "alphabetic", "fontSize": 11.2, "fontStyle": "italic", "dx": 95.5},
 "encoding": {"x": {"datum": 3.593, "type": "quantitative", "axis": null}, "y": {"datum": -0.114, "type": "quantitative", "axis": null}}},
{"data": {"name": "one"}, "mark": {"type": "text", "text": "-value = 3.69 x 10", "align": "left", "baseline": "alphabetic", "fontSize": 11.2, "dx": 101.7},
 "encoding": {"x": {"datum": 3.593, "type": "quantitative", "axis": null}, "y": {"datum": -0.114, "type": "quantitative", "axis": null}}},
{"data": {"name": "one"}, "mark": {"type": "text", "text": "\u22123", "align": "left", "baseline": "alphabetic", "fontSize": 7.3, "dx": 191.0, "dy": -4.5},
 "encoding": {"x": {"datum": 3.593, "type": "quantitative", "axis": null}, "y": {"datum": -0.114, "type": "quantitative", "axis": null}}},
{"data": {"name": "one"}, "mark": {"type": "text", "text": "(for Rep1 vs. Rep2)", "align": "left", "baseline": "alphabetic", "fontSize": 11.2, "dx": 202.4},
 "encoding": {"x": {"datum": 3.593, "type": "quantitative", "axis": null}, "y": {"datum": -0.114, "type": "quantitative", "axis": null}}},
{"data": {"name": "one"}, "mark": {"type": "text", "text": "l", "align": "center", "baseline": "alphabetic", "fontSize": 27, "fontWeight": "bold"},
 "encoding": {"x": {"datum": -1.239, "type": "quantitative", "axis": null}, "y": {"datum": 3.58, "type": "quantitative", "axis": null}}},
{"data": {"name": "one"}, "mark": {"type": "text", "text": "\u0394", "align": "center", "baseline": "middle", "fontSize": 13, "angle": 270},
 "encoding": {"x": {"datum": 15.297, "type": "quantitative", "axis": null}, "y": {"datum": 1.26, "type": "quantitative", "axis": null}}},
{"data": {"name": "one"}, "mark": {"type": "point", "filled": true, "color": "#626262", "size": 16, "opacity": 1},
 "encoding": {"x": {"datum": 14.938, "type": "quantitative", "axis": null}, "y": {"datum": 0.44, "type": "quantitative", "axis": null}}},
{"data": {"name": "one"}, "mark": {"type": "text", "text": "N.S. (", "align": "left", "baseline": "middle", "fontSize": 11.4, "dx": 4},
 "encoding": {"x": {"datum": 14.938, "type": "quantitative", "axis": null}, "y": {"datum": 0.44, "type": "quantitative", "axis": null}}},
{"data": {"name": "one"}, "mark": {"type": "text", "text": "q", "align": "left", "baseline": "middle", "fontSize": 11.4, "fontStyle": "italic", "dx": 33.1},
 "encoding": {"x": {"datum": 14.938, "type": "quantitative", "axis": null}, "y": {"datum": 0.44, "type": "quantitative", "axis": null}}},
{"data": {"name": "one"}, "mark": {"type": "text", "text": "> 0.1)", "align": "left", "baseline": "middle", "fontSize": 11.4, "dx": 42.6},
 "encoding": {"x": {"datum": 14.938, "type": "quantitative", "axis": null}, "y": {"datum": 0.44, "type": "quantitative", "axis": null}}}
]
}
]
}
